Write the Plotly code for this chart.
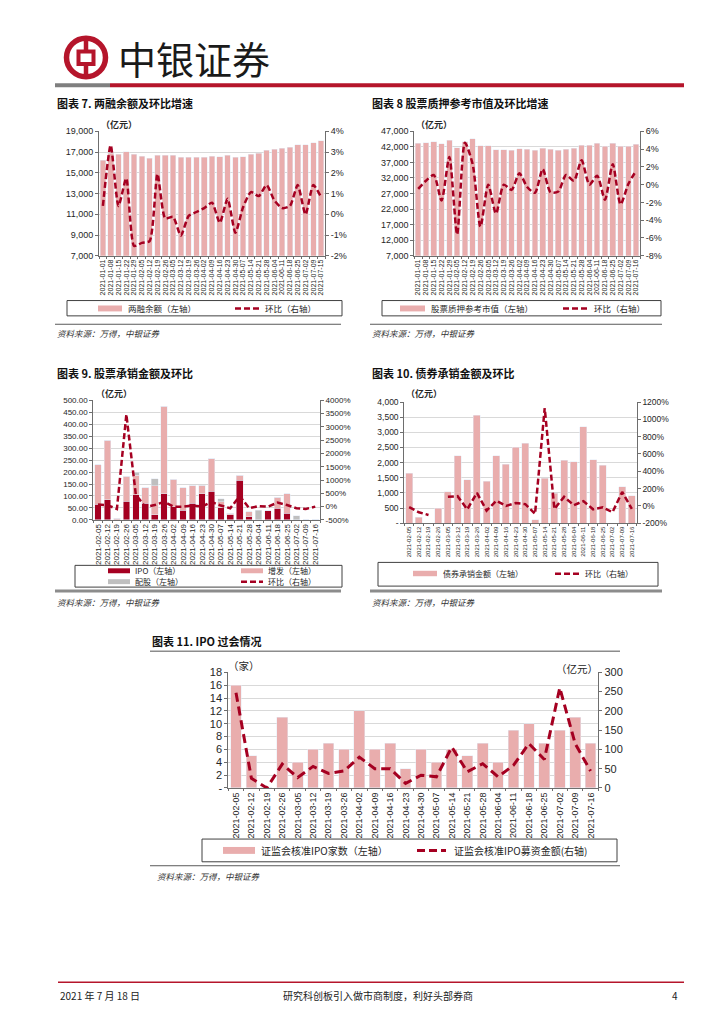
import plotly.graph_objects as go

# The page body has an 8px default margin; the figure is sized to fit inside it.
OFF = 8
W, H = 724 - 2 * OFF, 1024 - 2 * OFF
CJK = "Noto Sans CJK SC"
NUM = "Liberation Sans, Noto Sans CJK SC"


def px(x):
    return (x - OFF) / W


def py(y):
    return 1 - (y - OFF) / H

# ---------------- data ----------------
dates7 = ["2021-01-01", "2021-01-08", "2021-01-15", "2021-01-22", "2021-01-29", "2021-02-05",
          "2021-02-12", "2021-02-19", "2021-02-26", "2021-03-05", "2021-03-12", "2021-03-19",
          "2021-03-26", "2021-04-02", "2021-04-09", "2021-04-16", "2021-04-23", "2021-04-30",
          "2021-05-07", "2021-05-14", "2021-05-21", "2021-05-28", "2021-06-04", "2021-06-11",
          "2021-06-18", "2021-06-25", "2021-07-02", "2021-07-09", "2021-07-15"]
margin_balance = [16200, 16900, 16800, 17050, 16800, 16600, 16400, 16700, 16700, 16700,
                  16500, 16500, 16500, 16520, 16600, 16550, 16700, 16520, 16550, 16780,
                  16900, 17150, 17290, 17350, 17450, 17700, 17700, 17900, 18100]
margin_wow = [0.40, 3.33, 0.40, 1.73, -1.52, -1.38, -1.29, 1.95, -0.20, -0.12,
              -1.03, -0.08, 0.11, 0.30, 0.56, -0.41, 0.75, -0.89, 0.35, 1.07,
              0.88, 1.41, 0.67, 0.30, 0.40, 1.41, -0.01, 1.41, 0.83]

dates8 = ["2021-01-01", "2021-01-08", "2021-01-15", "2021-01-22", "2021-01-29", "2021-02-05",
          "2021-02-12", "2021-02-19", "2021-02-26", "2021-03-05", "2021-03-12", "2021-03-19",
          "2021-03-26", "2021-04-02", "2021-04-09", "2021-04-16", "2021-04-23", "2021-04-30",
          "2021-05-07", "2021-05-14", "2021-05-21", "2021-05-28", "2021-06-04", "2021-06-11",
          "2021-06-18", "2021-06-25", "2021-07-02", "2021-07-09", "2021-07-16"]
pledge_value = [43100, 43300, 43700, 43000, 44150, 41700, 43600, 44600, 42350, 42350,
                41100, 41100, 40900, 41400, 41300, 40900, 41500, 41300, 40900, 41300,
                41500, 42550, 42550, 43100, 42150, 43100, 42250, 42250, 42900]
pledge_wow = [-0.48, 0.44, 1.08, -1.78, 3.11, -5.59, 4.71, 2.30, -4.73, 0.0,
              -3.26, 0.0, -0.59, 1.27, -0.26, -0.92, 1.74, -0.85, -0.78, 1.08,
              0.44, 2.74, 0.0, 1.00, -1.70, 2.30, -2.22, 0.07, 1.56]

dates_w = ["2021-02-05", "2021-02-12", "2021-02-19", "2021-02-26", "2021-03-05", "2021-03-12",
           "2021-03-19", "2021-03-26", "2021-04-02", "2021-04-09", "2021-04-16", "2021-04-23",
           "2021-04-30", "2021-05-07", "2021-05-14", "2021-05-21", "2021-05-28", "2021-06-04",
           "2021-06-11", "2021-06-18", "2021-06-25", "2021-07-02", "2021-07-09", "2021-07-16"]
ipo_amt = [66, 85, 0, 78, 106, 69, 22, 110, 55, 41, 69, 110,
           120, 51, 22, 165, 14, 0, 39, 48, 27, 0, 0, 0]
seo_amt = [165, 248, 7, 104, 80, 66, 120, 365, 114, 93, 73, 35,
           135, 24, 5, 21, 20, 0, 0, 46, 83, 0, 0, 0]
rights_amt = [0, 0, 0, 0, 14, 0, 30, 0, 0, 0, 0, 0,
              0, 14, 0, 0, 0, 41, 0, 0, 0, 18, 0, 0]
equity_wow = [80, 55, -90, 3470, 450, -10, 60, 180, -5, 0, 40, 0,
              180, 40, -60, 400, -60, 20, 0, 150, 60, -60, -85, 0]

bond_amt = [1650, 200, 0, 500, 1030, 2220, 1440, 3570, 1390, 2220, 1940, 2500,
            2640, 120, 1490, 990, 2080, 2030, 3180, 2100, 1910, 0, 1210, 900]
bond_wow = [-15, -74, -105, None, 104, 112, -40, 150, -55, 59, 0, 32,
            20, -93, 1131, -36, 104, 8, 55, -40, -17, -74, 161, -36]

ipo_count = [16, 5, 0, 11, 4, 6, 7, 6, 12, 6, 7, 3,
             6, 4, 6, 5, 7, 4, 9, 10, 7, 9, 11, 7]
ipo_raise = [247, 25, 0, 62, 27, 56, 38, 44, 80, 50, 50, 12,
             33, 29, 106, 42, 63, 29, 59, 115, 74, 260, 115, 44]

# ---------------- styles ----------------
PINK = "#E9ADAD"
DARK = "#A50021"
GRAY = "#BFBFBF"
AXC = "#6E6E6E"
TXT = "#262626"

fig = go.Figure()
layout = {}


def names(i):
    L, R = 2 * i - 1, 2 * i
    xn = "x" if i == 1 else f"x{i}"
    yl = "y" if L == 1 else f"y{L}"
    yr = f"y{R}"
    return (xn, yl, yr, ("xaxis" if i == 1 else f"xaxis{i}"),
            ("yaxis" if L == 1 else f"yaxis{L}"), f"yaxis{R}")


def setup_axes(i, x0, x1, y0, y1, cats, lrange, lvals, ltext, rrange, rvals, rtext,
               xfs, yfs, grid=True):
    xn, yl, yr, xk, ylk, yrk = names(i)
    layout[xk] = dict(domain=[px(x0), px(x1)], anchor=yl, type="category",
                      range=[-0.5, len(cats) - 0.5], tickangle=-90,
                      tickmode="array", tickvals=cats, ticktext=cats,
                      tickfont=dict(family=NUM, size=xfs, color=TXT),
                      showline=True, linecolor=AXC, linewidth=1, ticks="outside",
                      ticklen=2, tickcolor=AXC, tickson="boundaries", showgrid=False,
                      fixedrange=True)
    layout[ylk] = dict(domain=[py(y1), py(y0)], anchor=xn, range=lrange,
                       tickvals=lvals, ticktext=ltext,
                       tickfont=dict(family=NUM, size=yfs, color=TXT),
                       showline=True, linecolor=AXC, linewidth=1, ticks="outside",
                       ticklen=3, tickcolor=AXC, showgrid=grid, gridcolor="#D9D9D9",
                       gridwidth=1, zeroline=False)
    layout[yrk] = dict(overlaying=yl, side="right", anchor=xn, range=rrange,
                       tickvals=rvals, ticktext=rtext,
                       tickfont=dict(family=NUM, size=yfs, color=TXT),
                       showline=True, linecolor=AXC, linewidth=1, ticks="outside",
                       ticklen=3, tickcolor=AXC, showgrid=False, zeroline=False)
    return xn, yl, yr


def fmt_thousand(v):
    return f"{v:,}"

# ---------- Chart 7 ----------
l7 = list(range(7000, 19001, 2000))
r7 = list(range(-2, 5))
xn, yl, yr = setup_axes(1, 99, 325, 126.7, 252.7, dates7,
                        [7000, 19000], l7, [fmt_thousand(v) for v in l7],
                        [-2, 4], r7, [f"{v}%" for v in r7], 7, 9)
fig.add_trace(go.Bar(x=dates7, y=margin_balance, marker_color=PINK, width=0.72,
                     xaxis=xn, yaxis=yl, name="两融余额（左轴）"))
fig.add_trace(go.Scatter(x=dates7, y=margin_wow, mode="lines", xaxis=xn, yaxis=yr,
                         line=dict(color=DARK, width=2.5, dash="6px,3px", shape="spline",
                                   smoothing=0.6), name="环比（右轴）"))

# ---------- Chart 8 ----------
l8 = list(range(7000, 47001, 5000))
r8 = list(range(-8, 7, 2))
xn, yl, yr = setup_axes(2, 414.3, 640, 126.7, 252.7, dates8,
                        [7000, 47000], l8, [fmt_thousand(v) for v in l8],
                        [-8, 6], r8, [f"{v}%" for v in r8], 7, 9)
fig.add_trace(go.Bar(x=dates8, y=pledge_value, marker_color=PINK, width=0.72,
                     xaxis=xn, yaxis=yl, name="股票质押参考市值（左轴）"))
fig.add_trace(go.Scatter(x=dates8, y=pledge_wow, mode="lines", xaxis=xn, yaxis=yr,
                         line=dict(color=DARK, width=2.5, dash="6px,3px", shape="spline",
                                   smoothing=0.7), name="环比（右轴）"))

# ---------- Chart 9 ----------
l9 = list(range(0, 501, 50))
r9 = list(range(-500, 4001, 500))
xn, yl, yr = setup_axes(3, 93.3, 320, 399, 520, dates_w,
                        [0, 500], l9, [f"{v:.2f}" for v in l9],
                        [-500, 4000], r9, [f"{v}%" for v in r9], 8, 8)
fig.add_trace(go.Bar(x=dates_w, y=ipo_amt, marker_color=DARK, width=0.7,
                     xaxis=xn, yaxis=yl, name="IPO（左轴）"))
fig.add_trace(go.Bar(x=dates_w, y=seo_amt, marker_color=PINK, width=0.7,
                     xaxis=xn, yaxis=yl, name="增发（左轴）"))
fig.add_trace(go.Bar(x=dates_w, y=rights_amt, marker_color=GRAY, width=0.7,
                     xaxis=xn, yaxis=yl, name="配股（左轴）"))
fig.add_trace(go.Scatter(x=dates_w, y=equity_wow, mode="lines", xaxis=xn, yaxis=yr,
                         line=dict(color=DARK, width=2.5, dash="6px,3px"), name="环比（右轴）"))

# ---------- Chart 10 ----------
l10 = list(range(0, 4001, 500))
r10 = list(range(-200, 1201, 200))
xn, yl, yr = setup_axes(4, 404.3, 636.7, 400.7, 523.3, dates_w,
                        [0, 4000], l10, ["-"] + [fmt_thousand(v) for v in l10[1:]],
                        [-200, 1200], r10, [f"{v}%" for v in r10], 6, 8.5)
fig.add_trace(go.Bar(x=dates_w, y=bond_amt, marker_color=PINK, width=0.72,
                     xaxis=xn, yaxis=yl, name="债券承销金额（左轴）"))
fig.add_trace(go.Scatter(x=dates_w, y=bond_wow, mode="lines", xaxis=xn, yaxis=yr,
                         connectgaps=False,
                         line=dict(color=DARK, width=2.5, dash="6px,3px"), name="环比（右轴）"))

# ---------- Chart 11 ----------
l11 = list(range(0, 19, 2))
r11 = list(range(0, 301, 50))
xn, yl, yr = setup_axes(5, 228.3, 598.3, 674.3, 791.3, dates_w,
                        [0, 18], l11, ["-"] + [str(v) for v in l11[1:]],
                        [0, 300], r11, [str(v) for v in r11], 9, 11)
fig.add_trace(go.Bar(x=dates_w, y=ipo_count, marker_color=PINK, width=0.7,
                     xaxis=xn, yaxis=yl, name="证监会核准IPO家数（左轴）"))
fig.add_trace(go.Scatter(x=dates_w, y=ipo_raise, mode="lines", xaxis=xn, yaxis=yr,
                         line=dict(color=DARK, width=3, dash="9px,5px"),
                         name="证监会核准IPO募资金额(右轴)"))

# ---------------- decorations ----------------
shapes = []
annotations = []


def txt(x, y, s, size=9, color=TXT, xanchor="left", yanchor="middle", family=CJK):
    annotations.append(dict(x=px(x), y=py(y), xref="paper", yref="paper", text=s,
                            showarrow=False, xanchor=xanchor, yanchor=yanchor,
                            font=dict(family=family, size=size, color=color)))


def hline(x0, x1, y, color, width):
    shapes.append(dict(type="line", xref="paper", yref="paper", x0=px(x0), x1=px(x1),
                       y0=py(y), y1=py(y), line=dict(color=color, width=width)))


def rect(x0, y0, x1, y1, fill=None, line_color=None, lw=1):
    d = dict(type="rect", xref="paper", yref="paper", x0=px(x0), x1=px(x1),
             y0=py(y1), y1=py(y0), line=dict(width=lw if line_color else 0,
                                              color=line_color or "rgba(0,0,0,0)"))
    if fill:
        d["fillcolor"] = fill
    shapes.append(d)


def dash_swatch(x0, x1, y, width=2.5, dash="6px,3px"):
    shapes.append(dict(type="line", xref="paper", yref="paper", x0=px(x0), x1=px(x1),
                       y0=py(y), y1=py(y), line=dict(color=DARK, width=width, dash=dash)))

# header logo
LOGO = "#B5152B"
shapes.append(dict(type="circle", xref="paper", yref="paper", x0=px(66.5), x1=px(105.5),
                   y0=py(71.5), y1=py(32.5), line=dict(color=LOGO, width=5.5)))
rect(78.5, 46, 93.5, 58.5, line_color=LOGO, lw=4)
shapes.append(dict(type="line", xref="paper", yref="paper", x0=px(86), x1=px(86),
                   y0=py(33), y1=py(46), line=dict(color=LOGO, width=4.5)))
shapes.append(dict(type="line", xref="paper", yref="paper", x0=px(86), x1=px(86),
                   y0=py(58.5), y1=py(71), line=dict(color=LOGO, width=4.5)))
txt(116, 52, "中银证券", size=38, color="#1A1A1A")
# header rule
hline(55, 110, 80, "#7F7F7F", 4)
hline(110, 684, 80, "#B5152B", 4)

# chart titles
txt(55, 98, "<b>图表 7. 两融余额及环比增速</b>", size=11, color="#111")
txt(370, 98, "<b>图表 8 股票质押参考市值及环比增速</b>", size=11, color="#111")
txt(55, 371, "<b>图表 9. 股票承销金额及环比</b>", size=11, color="#111")
txt(370, 371, "<b>图表 10. 债券承销金额及环比</b>", size=11, color="#111")
txt(150, 643, "<b>图表 11. IPO 过会情况</b>", size=11, color="#111")

# unit labels
txt(99, 120, "<b>（亿元）</b>", size=9)
txt(414, 120, "<b>（亿元）</b>", size=9)
txt(94, 392, "<b>（亿元）</b>", size=9)
txt(404, 392, "<b>（亿元）</b>", size=9)
txt(226, 667, "（家）", size=10.5)
txt(600, 670, "（亿元）", size=10.5, xanchor="right")

# legends chart 7
rect(67, 298, 342, 313.5, line_color="#404040", lw=1)
rect(98, 303, 122, 309, fill=PINK)
txt(126, 306, "两融余额（左轴）", size=8.5)
dash_swatch(235, 259, 306)
txt(263, 306, "环比（右轴）", size=8.5)
# chart 8
rect(382, 298, 661, 313.5, line_color="#404040", lw=1)
rect(400, 303, 425, 309, fill=PINK)
txt(429, 306, "股票质押参考市值（左轴）", size=8.5)
dash_swatch(563, 588, 306)
txt(592, 306, "环比（右轴）", size=8.5)
# chart 9
rect(75, 566, 342, 588, line_color="#404040", lw=1)
rect(108, 569, 130, 574, fill=DARK)
txt(133, 571.5, "IPO（左轴）", size=8)
rect(241, 569, 263, 574, fill=PINK)
txt(266, 571.5, "增发（左轴）", size=8)
rect(108, 580, 130, 585, fill=GRAY)
txt(133, 582.5, "配股（左轴）", size=8)
dash_swatch(241, 263, 582.5)
txt(266, 582.5, "环比（右轴）", size=8)
# chart 10
rect(378, 563, 658, 587, line_color="#404040", lw=1)
rect(413, 571.5, 437, 577, fill=PINK)
txt(441, 574.5, "债券承销金额（左轴）", size=8)
dash_swatch(555, 579, 574.5)
txt(583, 574.5, "环比（右轴）", size=8)
# chart 11
rect(202, 843, 617, 866, line_color="#404040", lw=1)
rect(223, 851, 255, 858, fill=PINK)
txt(259, 854.5, "证监会核准IPO家数（左轴）", size=10)
dash_swatch(417, 446, 854.5, width=3, dash="8px,4px")
txt(452, 854.5, "证监会核准IPO募资金额(右轴)", size=10)

# source lines
hline(55, 341, 322, "#595959", 1)
hline(370, 662, 322, "#595959", 1)
txt(55, 331, "<i>资料来源：万得，中银证券</i>", size=8.5, color="#333")
txt(370, 331, "<i>资料来源：万得，中银证券</i>", size=8.5, color="#333")
hline(55, 341, 592, "#8C8C8C", 3)
hline(370, 662, 592, "#8C8C8C", 3)
txt(55, 603, "<i>资料来源：万得，中银证券</i>", size=8.5, color="#333")
txt(370, 603, "<i>资料来源：万得，中银证券</i>", size=8.5, color="#333")
hline(150, 620, 653, "#8C8C8C", 1.5)
hline(150, 620, 870, "#595959", 1)
txt(155, 880, "<i>资料来源：万得，中银证券</i>", size=8.5, color="#333")

# footer
hline(58, 684, 988, "#B5152B", 1.5)
txt(58, 1001, "2021 年 7 月 18 日", size=10, color="#222")
txt(378, 1001, "研究科创板引入做市商制度，利好头部券商", size=10, color="#222", xanchor="center")
txt(680, 1001, "4", size=10, color="#222", xanchor="right")

layout.update(dict(width=W, height=H, margin=dict(l=0, r=0, t=0, b=0),
                   paper_bgcolor="white", plot_bgcolor="white", barmode="stack",
                   showlegend=False, shapes=shapes, annotations=annotations))
fig.update_layout(**layout)
fig.write_html("out.html")
